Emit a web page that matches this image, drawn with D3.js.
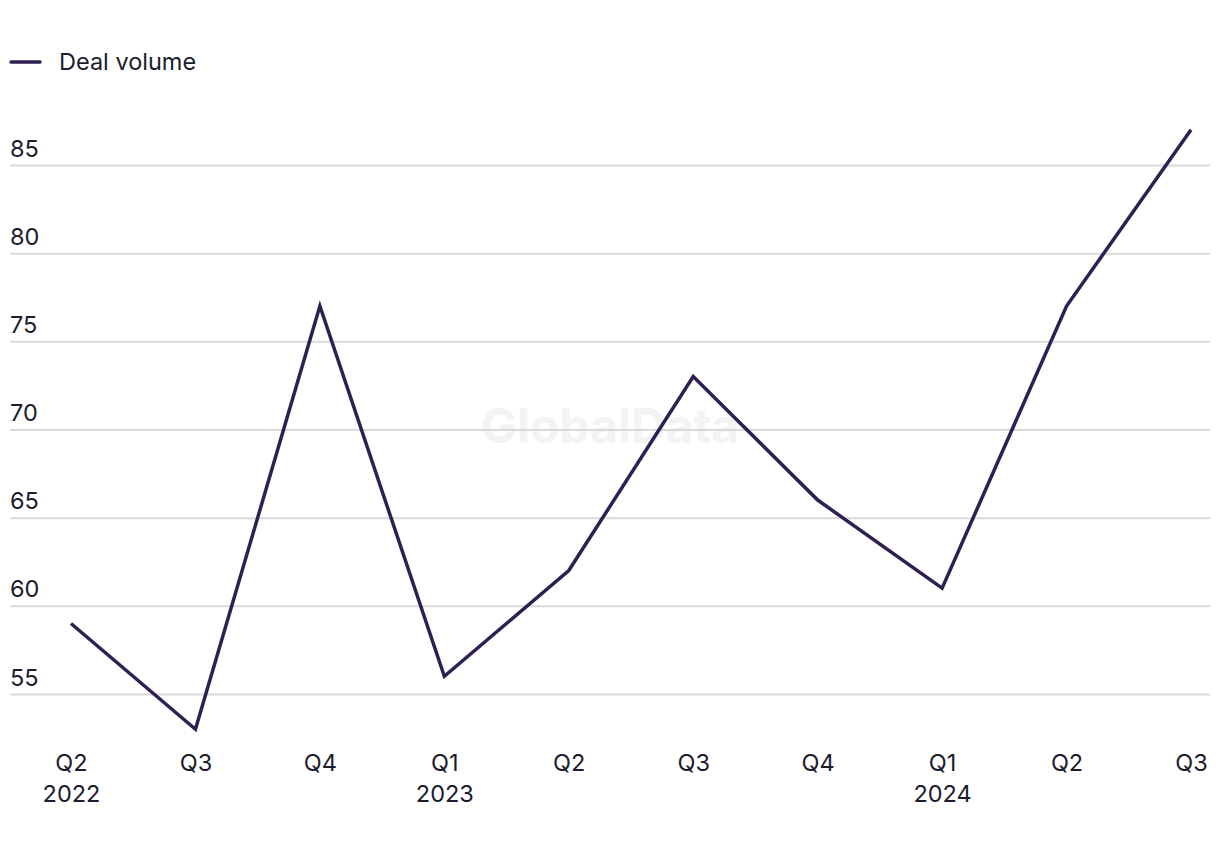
<!DOCTYPE html>
<html>
<head>
<meta charset="utf-8">
<script src="https://cdn.jsdelivr.net/npm/d3@7"></script>
<style>
  html, body { margin: 0; padding: 0; background: #ffffff; }
  svg { display: block; font-family: Inter, "Noto Sans", sans-serif; }
</style>
</head>
<body>
<svg id="chart" width="1220" height="850"></svg>
<script>
const quarters = ["Q2", "Q3", "Q4", "Q1", "Q2", "Q3", "Q4", "Q1", "Q2", "Q3"];
const years = ["2022", "", "", "2023", "", "", "", "2024", "", ""];
const dealVolume = [59, 53, 77, 56, 62, 73, 66, 61, 77, 87];
const yTicks = [55, 60, 65, 70, 75, 80, 85];
const seriesName = "Deal volume";

const svg = d3.select("#chart");
const idx = d3.range(quarters.length);

const x = d3.scalePoint().domain(idx).range([71, 1191]);
const y = d3.scaleLinear().domain([55, 85]).range([694, 165]);

const lineColor = "#2f1f52";
const textColor = "#1c1c2c";
const fs = 23.5;

// watermark
svg.append("text")
  .attr("x", 610).attr("y", 443)
  .attr("text-anchor", "middle")
  .attr("font-size", 48).attr("font-weight", 700)
  .attr("fill", "#f3f3f3")
  .text("GlobalData");

// grid
const yAxis = d3.axisLeft(y).tickValues(yTicks).tickSize(0).tickPadding(0);
const gy = svg.append("g").call(yAxis);
gy.select(".domain").remove();
gy.selectAll(".tick line").remove();
gy.selectAll(".tick").each(function(d) {
  const t = d3.select(this);
  t.insert("line", ":first-child")
    .attr("x1", 10).attr("x2", 1210)
    .attr("y1", 0).attr("y2", 0)
    .attr("stroke", "#d9d9d9").attr("stroke-width", 2);
  t.select("text")
    .attr("x", 10).attr("dy", null).attr("y", -9)
    .attr("text-anchor", "start")
    .attr("font-size", fs).attr("font-family", "Inter, 'Noto Sans', sans-serif")
    .attr("fill", textColor);
});

// x axis labels
const xAxis = d3.axisBottom(x).tickSize(0).tickPadding(0).tickFormat(i => quarters[i]);
const gx = svg.append("g").attr("transform", "translate(0,771)").call(xAxis);
gx.select(".domain").remove();
gx.selectAll(".tick text")
  .attr("y", 0).attr("dy", null)
  .attr("font-size", fs).attr("font-family", "Inter, 'Noto Sans', sans-serif")
  .attr("fill", textColor)
  .each(function(i) {
    if (years[i]) {
      d3.select(this).append("tspan")
        .attr("x", 0).attr("dy", 31).text(years[i]);
    }
  });

// line
const line = d3.line().x((d, i) => x(i)).y(d => y(d));
svg.append("path")
  .datum(dealVolume)
  .attr("d", line)
  .attr("fill", "none")
  .attr("stroke", lineColor)
  .attr("stroke-width", 3.5)
  .attr("stroke-linejoin", "miter");

// legend
const lg = svg.append("g");
lg.append("line")
  .attr("x1", 11).attr("x2", 40).attr("y1", 62).attr("y2", 62)
  .attr("stroke", lineColor).attr("stroke-width", 3.5).attr("stroke-linecap", "round");
lg.append("text")
  .attr("x", 59).attr("y", 70)
  .attr("font-size", fs).attr("fill", textColor)
  .text(seriesName);
</script>
</body>
</html>
